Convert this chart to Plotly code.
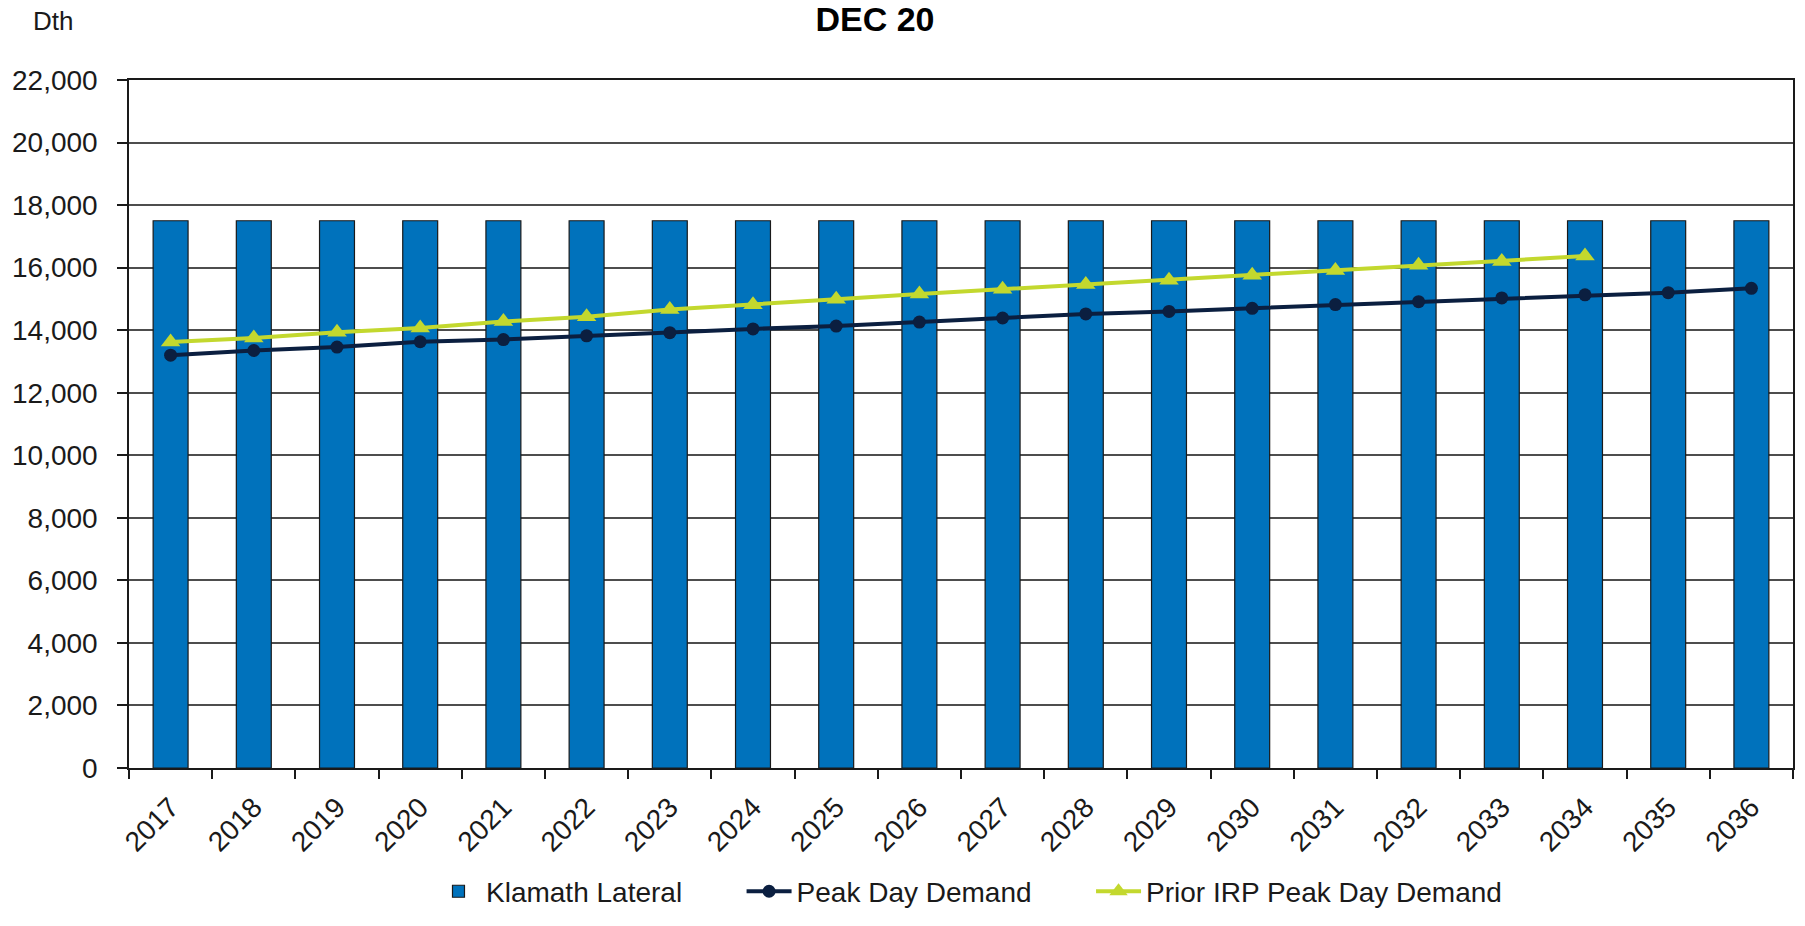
import plotly.graph_objects as go

years = ["2017", "2018", "2019", "2020", "2021", "2022", "2023", "2024", "2025", "2026",
         "2027", "2028", "2029", "2030", "2031", "2032", "2033", "2034", "2035", "2036"]
klamath_lateral = [17500, 17500, 17500, 17500, 17500, 17500, 17500, 17500, 17500, 17500,
                   17500, 17500, 17500, 17500, 17500, 17500, 17500, 17500, 17500, 17500]
peak_day_demand = [13200, 13350, 13460, 13630, 13700, 13820, 13920, 14040, 14130, 14260,
                   14390, 14520, 14600, 14700, 14820, 14910, 15030, 15130, 15200, 15340]
prior_years = years[:18]
prior_irp_peak = [13620, 13750, 13930, 14070, 14280, 14430, 14660, 14810, 14990, 15160,
                  15310, 15460, 15600, 15760, 15910, 16080, 16200, 16370]
y_ticks = [0, 2000, 4000, 6000, 8000, 10000, 12000, 14000, 16000, 18000, 20000, 22000]

FONT = "Arial, Liberation Sans, sans-serif"
W, H = 1805, 926
ML, MR, MT, MB = 129, 10, 80, 150
plot_w = W - ML - MR
plot_h = H - MT - MB
GAP = "\u00a0" * 7  # spacing after a legend entry

fig = go.Figure()
fig.add_trace(go.Bar(
    x=years, y=klamath_lateral, name="Klamath Lateral" + GAP,
    marker=dict(color="#0072BC", line=dict(color="#1a1a1a", width=1.2)),
))
fig.add_trace(go.Scatter(
    x=years, y=peak_day_demand, name="Peak Day Demand" + GAP, mode="lines+markers",
    line=dict(color="#0B1F40", width=4),
    marker=dict(symbol="circle", size=13, color="#0B1F40"),
))
fig.add_trace(go.Scatter(
    x=prior_years, y=prior_irp_peak, name="Prior IRP Peak Day Demand", mode="lines+markers",
    line=dict(color="#C3D82E", width=4),
    marker=dict(symbol="triangle-up", size=17, color="#C3D82E"),
))

fig.update_layout(
    width=W, height=H,
    paper_bgcolor="white", plot_bgcolor="white",
    margin=dict(l=ML, r=MR, t=MT, b=MB),
    bargap=0.58,
    font=dict(family=FONT, color="#1a1a1a"),
    title=dict(text="<b>DEC 20</b>", xref="container", yref="container",
               x=875 / W, xanchor="center", y=1 - 19 / H, yanchor="middle",
               font=dict(size=34, color="#000000", family=FONT)),
    showlegend=True,
    legend=dict(orientation="h", x=(970 - ML) / plot_w, xanchor="center",
                y=-125 / plot_h, yanchor="middle",
                font=dict(size=28, color="#1a1a1a", family=FONT),
                itemwidth=45),
)
fig.add_annotation(text="Dth", x=(53 - ML) / plot_w, y=(plot_h + MT - 20) / plot_h,
                   xref="paper", yref="paper", xanchor="center", yanchor="middle",
                   showarrow=False, font=dict(size=26, color="#1a1a1a", family=FONT))

fig.update_xaxes(
    type="category", range=[-0.5, len(years) - 0.5],
    tickson="boundaries", ticks="outside", ticklen=9,
    tickcolor="#1a1a1a", tickwidth=1.5, tickangle=-45, ticklabelstandoff=10,
    showline=True, linecolor="#1a1a1a", linewidth=1.5, mirror=True,
    showgrid=False, tickfont=dict(size=28, color="#1a1a1a", family=FONT),
)
fig.update_yaxes(
    range=[0, 22000], tickvals=y_ticks, tickformat=",d",
    ticks="outside", ticklen=10, tickcolor="#1a1a1a", tickwidth=1.5,
    showline=True, linecolor="#1a1a1a", linewidth=1.5, mirror=True,
    showgrid=True, gridcolor="#4d4d4d", gridwidth=1.5,
    zeroline=False, ticklabelstandoff=14,
    tickfont=dict(size=28, color="#1a1a1a", family=FONT),
)

fig.write_html("out.html", config={"displayModeBar": False},
               post_script="document.body.style.margin='0';")
